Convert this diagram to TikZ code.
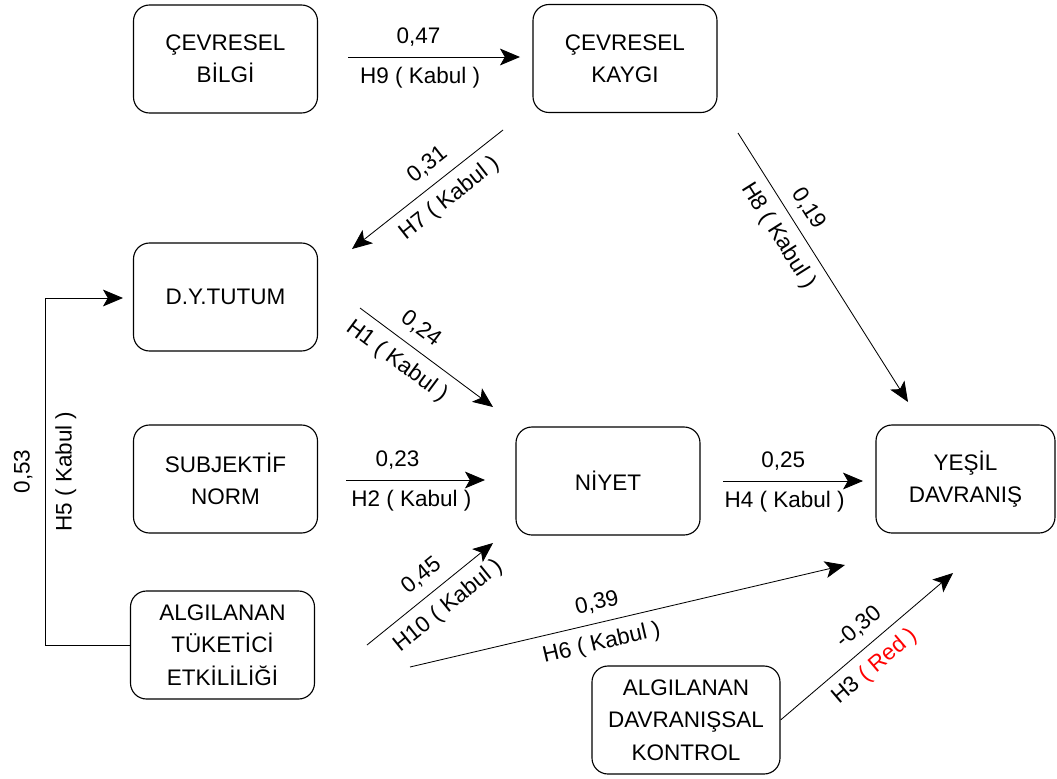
\documentclass[tikz,border=0pt]{standalone}
\usetikzlibrary{arrows.meta}
\usepackage{fontspec}
\setmainfont{Liberation Sans}

\begin{document}
\begin{tikzpicture}[
    x=0.25mm, y=-0.25mm,
    font=\fontsize{16}{23}\selectfont,
    kutu/.style={draw, line width=0.8pt, rounded corners=4mm, align=center,
        minimum width=46mm, minimum height=27mm},
    line/.style={line width=0.6pt, -{Stealth[length=5mm, width=4.2mm, inset=1.2mm]}},
    etiket/.style={sloped, inner sep=2.5mm}
]
    \useasboundingbox (0,0) rectangle (1057,778);

    % Kutular
    \node[kutu] (bilgi) at (225.5,59) {ÇEVRESEL\\BİLGİ};
    \node[kutu] (kaygi) at (625,58.5) {ÇEVRESEL\\KAYGI};
    \node[kutu] (tutum) at (225.5,297) {D.Y.TUTUM};
    \node[kutu] (norm) at (225.5,479) {SUBJEKTİF\\NORM};
    \node[kutu] (niyet) at (608,481) {NİYET};
    \node[kutu, minimum width=44.75mm] (yesil) at (965.5,479) {YEŞİL\\DAVRANIŞ};
    \node[kutu] (etki) at (222.5,645) {ALGILANAN\\TÜKETİCİ\\ETKİLİLİĞİ};
    \node[kutu, minimum width=47mm] (kontrol) at (686,720) {ALGILANAN\\DAVRANIŞSAL\\KONTROL};

    % Ok uçları
    \coordinate (h9a) at (348,57);   \coordinate (h9b) at (520,57);
    \coordinate (h7a) at (503,130);  \coordinate (h7b) at (352,249);
    \coordinate (h8a) at (738,133);  \coordinate (h8b) at (908,402);
    \coordinate (h1a) at (360,308);  \coordinate (h1b) at (493,407);
    \coordinate (h2a) at (346,480);  \coordinate (h2b) at (485,480);
    \coordinate (h4a) at (723,481);  \coordinate (h4b) at (863,481);
    \coordinate (h10a) at (367,645); \coordinate (h10b) at (493,543);
    \coordinate (h6a) at (410,667);  \coordinate (h6b) at (845,565);
    \coordinate (h3b) at (953,573);
    \coordinate (h5b) at (45,298);   \coordinate (h5c) at (123,298);

    % Yatay oklar
    \draw[line] (h9a) -- node[pos=0.41, above, inner sep=2.5mm] {0,47}
        node[pos=0.42, below, inner sep=2.5mm] {H9 ( Kabul )} (h9b);
    \draw[line] (h2a) -- node[pos=0.37, above, inner sep=2.5mm] {0,23}
        node[pos=0.47, below, inner sep=2.5mm] {H2 ( Kabul )} (h2b);
    \draw[line] (h4a) -- node[pos=0.43, above, inner sep=2.5mm] {0,25}
        node[pos=0.44, below, inner sep=2.5mm] {H4 ( Kabul )} (h4b);

    % Eğik oklar
    \draw[line] (h7a) -- node[etiket, pos=0.42, above] {0,31}
        node[etiket, pos=0.44, below] {H7 ( Kabul )} (h7b);
    \draw[line] (h8a) -- node[etiket, pos=0.32, above] {0,19}
        node[etiket, pos=0.34, below] {H8 ( Kabul )} (h8b);
    \draw[line] (h1a) -- node[etiket, pos=0.37, above] {0,24}
        node[etiket, pos=0.37, below] {H1 ( Kabul )} (h1b);
    \draw[line] (h10a) -- node[etiket, pos=0.53, above] {0,45}
        node[etiket, pos=0.54, below] {H10 ( Kabul )} (h10b);
    \draw[line] (h6a) -- node[etiket, pos=0.44, above] {0,39}
        node[etiket, pos=0.43, below] {H6 ( Kabul )} (h6b);
    \draw[line] (kontrol.east) -- node[etiket, pos=0.53, above] {-0,30}
        node[etiket, pos=0.47, below] {H3 \textcolor{red}{( Red )}} (h3b);

    % Geri dönen ok
    \draw[line] (etki.west) -- (etki.west -| h5b)
        -- node[etiket, midway, above, inner sep=3mm] {0,53}
        node[etiket, midway, below] {H5 ( Kabul )} (h5b) -- (h5c);
\end{tikzpicture}
\end{document}
